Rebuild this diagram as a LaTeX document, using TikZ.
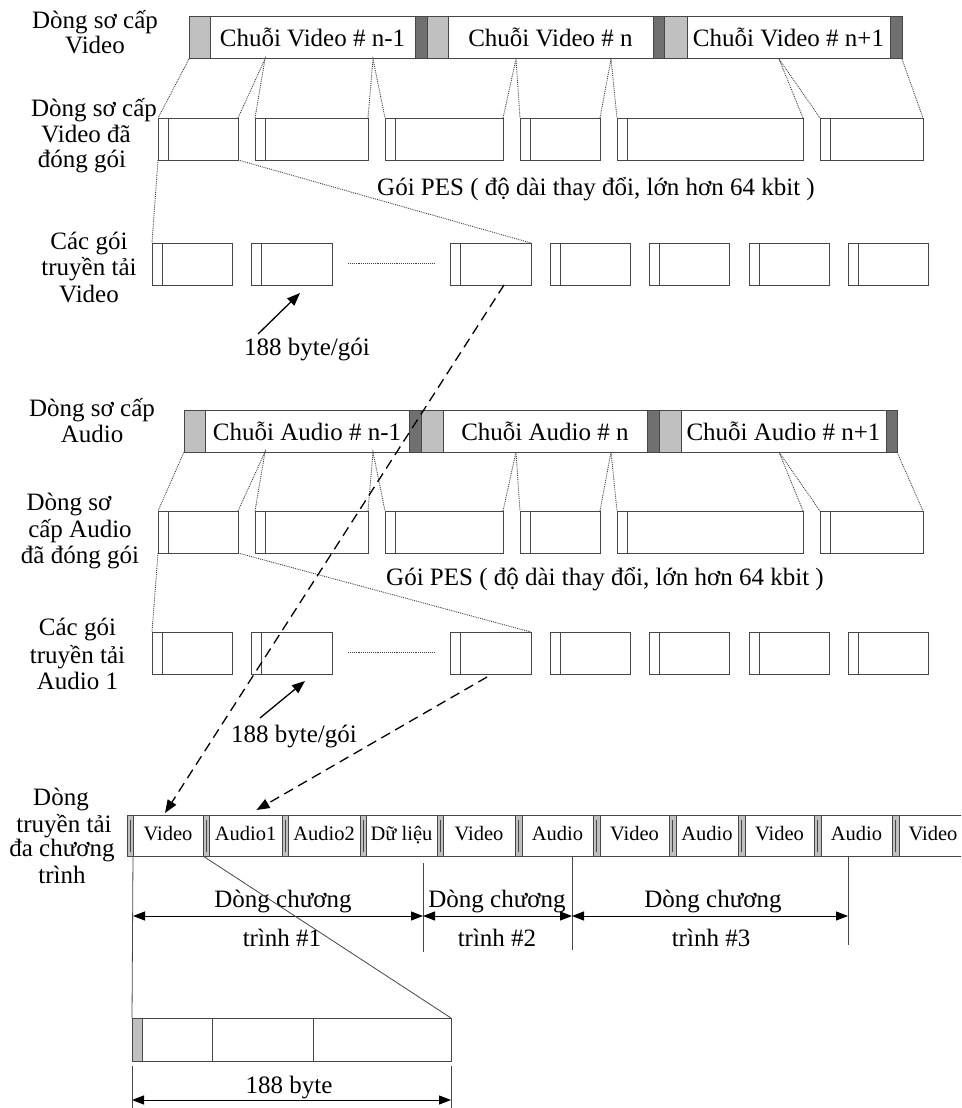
\documentclass[tikz,border=0pt]{standalone}
\usepackage{fontspec}
\setmainfont{Liberation Serif}
\usetikzlibrary{arrows.meta}
\definecolor{lgray}{RGB}{192,192,192}
\definecolor{dgray}{RGB}{112,112,112}
\definecolor{edge}{RGB}{70,70,70}
\newcommand\bx[7][box]{%
  \pgfmathsetmacro\bxw{#5-#3}\pgfmathsetmacro\bxh{#6-#4}%
  \node[#1,anchor=north west,minimum width=\bxw pt,minimum height=\bxh pt] (#2) at (#3,#4) {#7};}
\newcommand\pk[5]{\bx{#1}{#2}{#3}{#4}{#5}{}%
  \draw[inner] ([xshift=10.5pt]#1.north west) -- ([xshift=10.5pt]#1.south west);}
\newcommand\hd[3]{\bx[lg]{#1}{#2}{815}{#3}{856}{}%
  \draw[inner,line width=0.6pt] ([xshift=3pt,yshift=-5pt]#1.north west) -- ([xshift=3pt,yshift=4pt]#1.south west);}
\newcommand\lb[4]{\node[big,anchor=base] (#1) at (#2,#3) {#4};}
\begin{document}
\begin{tikzpicture}[x=1pt,y=-1pt,
  box/.style={draw=edge,line width=1pt,fill=white,inner sep=0pt,outer sep=0pt},
  lg/.style={box,fill=lgray},
  dg/.style={box,fill=dgray},
  big/.style={font=\fontsize{25}{26}\selectfont,inner sep=0pt},
  bartext/.style={box,font=\fontsize{25}{26}\selectfont,text height=18pt,text depth=0pt},
  smt/.style={box,font=\fontsize{20.5}{22}\selectfont,text height=14pt,text depth=4pt},
  inner/.style={draw=edge,line width=1pt},
  fan/.style={draw=black!75,line width=0.9pt,densely dotted},
  dashline/.style={line width=1.3pt,dash pattern=on 10pt off 6pt,-{Triangle[length=13pt,width=10pt]}},
  tipline/.style={line width=1.3pt,-{Triangle[length=13pt,width=10pt]}},
  dim/.style={line width=1pt,{Triangle[length=12pt,width=9pt]}-{Triangle[length=12pt,width=9pt]}},
  thinl/.style={draw=edge,line width=0.8pt}]
\useasboundingbox (0,0) rectangle (961,1108);
\clip (0,0) rectangle (961,1108);
% ---------------- Video elementary stream
\lb{l1a}{95}{29}{Dòng sơ cấp}
\lb{l1b}{95}{54}{Video}
\bx[lg]{vL1}{189}{17}{210}{59}{}
\bx[bartext]{vS1}{210}{17}{415}{59}{Chuỗi Video \# n-1}
\bx[dg]{vD1}{415}{17}{427}{59}{}
\bx[lg]{vL2}{427}{17}{448}{59}{}
\bx[bartext]{vS2}{448}{17}{653}{59}{Chuỗi Video \# n}
\bx[dg]{vD2}{653}{17}{664}{59}{}
\bx[lg]{vL3}{664}{17}{687}{59}{}
\bx[bartext]{vS3}{687}{17}{890}{59}{Chuỗi Video \# n+1}
\bx[dg]{vD3}{890}{17}{902}{59}{}
% PES video
\lb{l2a}{94}{116}{Dòng sơ cấp}
\lb{l2b}{86}{142}{Video đã}
\lb{l2c}{82}{167}{đóng gói}
\pk{vp1}{158}{118}{238}{160}
\pk{vp2}{255}{118}{368}{160}
\pk{vp3}{385}{118}{503}{160}
\pk{vp4}{520}{118}{600}{160}
\pk{vp5}{617}{118}{803}{160}
\pk{vp6}{820}{118}{923}{160}
\coordinate (vc1) at (265,59);
\coordinate (vc2) at (373,59);
\coordinate (vc3) at (516,59);
\coordinate (vc4) at (611,59);
\coordinate (vc5) at (779,59);
\draw[fan] (vL1.south west) -- (vp1.north west);
\draw[fan] (vp1.north east) -- (vc1) -- (vp2.north west);
\draw[fan] (vp2.north east) -- (vc2) -- (vp3.north west);
\draw[fan] (vp3.north east) -- (vc3) -- (vp4.north west);
\draw[fan] (vp4.north east) -- (vc4) -- (vp5.north west);
\draw[fan] (vp5.north east) -- (vc5) -- (vp6.north west);
\draw[fan] (vD3.south east) -- (vp6.north east);
\lb{vpes}{596}{195}{Gói PES ( độ dài thay đổi, lớn hơn 64 kbit )}
% TS video
\lb{l3a}{89}{249}{Các gói}
\lb{l3b}{89}{275}{truyền tải}
\lb{l3c}{89}{302}{Video}
\pk{vt1}{152}{243}{232}{285}
\pk{vt2}{251}{243}{332}{285}
\pk{vt3}{450}{243}{531}{285}
\pk{vt4}{550}{243}{630}{285}
\pk{vt5}{649}{243}{729}{285}
\pk{vt6}{749}{243}{829}{285}
\pk{vt7}{848}{243}{928}{285}
\draw[fan] (vp1.south west) -- (vt1.north west);
\draw[fan] (vp1.south east) -- (vt3.north east);
\draw[fan] ([xshift=16pt,yshift=1pt]vt2.east) -- ([xshift=-15pt,yshift=1pt]vt3.west);
\lb{vbt}{307}{355}{188 byte/gói}
\coordinate (va0) at (258,334);
\coordinate (va1) at (300,293);
\draw[tipline] (va0) -- (va1);
% ---------------- Audio elementary stream
\lb{l4a}{92}{416}{Dòng sơ cấp}
\lb{l4b}{92}{442}{Audio}
\bx[lg]{aL1}{184}{410}{205}{452}{}
\bx[bartext]{aS1}{205}{410}{409}{452}{Chuỗi Audio \# n-1}
\bx[dg]{aD1}{409}{410}{421}{452}{}
\bx[lg]{aL2}{421}{410}{443}{452}{}
\bx[bartext]{aS2}{443}{410}{647}{452}{Chuỗi Audio \# n}
\bx[dg]{aD2}{647}{410}{659}{452}{}
\bx[lg]{aL3}{659}{410}{681}{452}{}
\bx[bartext]{aS3}{681}{410}{886}{452}{Chuỗi Audio \# n+1}
\bx[dg]{aD3}{886}{410}{897}{452}{}
% PES audio
\lb{l5a}{69}{510}{Dòng sơ}
\lb{l5b}{80}{537}{cấp Audio}
\lb{l5c}{80}{563}{đã đóng gói}
\pk{ap1}{158}{511}{238}{553}
\pk{ap2}{255}{511}{368}{553}
\pk{ap3}{385}{511}{503}{553}
\pk{ap4}{520}{511}{600}{553}
\pk{ap5}{617}{511}{803}{553}
\pk{ap6}{820}{511}{923}{553}
\coordinate (ac1) at (265,452);
\coordinate (ac2) at (373,452);
\coordinate (ac3) at (516,452);
\coordinate (ac4) at (611,452);
\coordinate (ac5) at (779,452);
\draw[fan] (aL1.south west) -- (ap1.north west);
\draw[fan] (ap1.north east) -- (ac1) -- (ap2.north west);
\draw[fan] (ap2.north east) -- (ac2) -- (ap3.north west);
\draw[fan] (ap3.north east) -- (ac3) -- (ap4.north west);
\draw[fan] (ap4.north east) -- (ac4) -- (ap5.north west);
\draw[fan] (ap5.north east) -- (ac5) -- (ap6.north west);
\draw[fan] (aD3.south east) -- (ap6.north east);
\lb{apes}{605}{585}{Gói PES ( độ dài thay đổi, lớn hơn 64 kbit )}
% TS audio
\lb{l6a}{77.5}{635}{Các gói}
\lb{l6b}{77.5}{663}{truyền tải}
\lb{l6c}{77.5}{689}{Audio 1}
\pk{at1}{152}{632}{232}{674}
\pk{at2}{251}{632}{332}{674}
\pk{at3}{450}{632}{531}{674}
\pk{at4}{550}{632}{630}{674}
\pk{at5}{649}{632}{729}{674}
\pk{at6}{749}{632}{829}{674}
\pk{at7}{848}{632}{928}{674}
\draw[fan] (ap1.south west) -- (at1.north west);
\draw[fan] (ap1.south east) -- (at3.north east);
\draw[fan] ([xshift=16pt,yshift=1pt]at2.east) -- ([xshift=-15pt,yshift=1pt]at3.west);
\lb{abt}{294}{742}{188 byte/gói}
\coordinate (aa0) at (260,718);
\coordinate (aa1) at (305,681);
\draw[tipline] (aa0) -- (aa1);
% ---------------- Multiplex transport stream
\lb{l7a}{61}{805}{Dòng}
\lb{l7b}{64}{832}{truyền tải}
\lb{l7c}{62}{856}{đa chương}
\lb{l7d}{62}{883}{trình}
\hd{h1}{127}{133}\bx[smt]{m1}{133}{815}{203}{856}{Video}
\hd{h2}{203}{209}\bx[smt]{m2}{209}{815}{282}{856}{Audio1}
\hd{h3}{282}{288}\bx[smt]{m3}{288}{815}{360}{856}{Audio2}
\hd{h4}{360}{366}\bx[smt]{m4}{366}{815}{437}{856}{Dữ liệu}
\hd{h5}{437}{443}\bx[smt]{m5}{443}{815}{515}{856}{Video}
\hd{h6}{515}{522}\bx[smt]{m6}{522}{815}{593}{856}{Audio}
\hd{h7}{593}{600}\bx[smt]{m7}{600}{815}{669}{856}{Video}
\hd{h8}{669}{676}\bx[smt]{m8}{676}{815}{738}{856}{Audio}
\hd{h9}{738}{745}\bx[smt]{m9}{745}{815}{814}{856}{Video}
\hd{h10}{814}{821}\bx[smt]{m10}{821}{815}{892}{856}{Audio}
\hd{h11}{892}{899}\bx[smt]{m11}{899}{815}{967}{856}{Video}
% dashed connectors
\draw[dashline] ([xshift=-27pt]vt3.south east) -- ([xshift=-3pt,yshift=2pt]m1.north);
\draw[dashline] ([xshift=37pt,yshift=-3pt]at3.south west) -- ([xshift=11pt,yshift=5pt]m2.north);
% program streams
\coordinate (t1a) at (423,863); \coordinate (t1b) at (423,952);
\coordinate (t2a) at (572,856); \coordinate (t2b) at (572,950);
\coordinate (t3a) at (848,856); \coordinate (t3b) at (848,945);
\draw[thinl] (t1a) -- (t1b);
\draw[thinl] (t2a) -- (t2b);
\draw[thinl] (t3a) -- (t3b);
\coordinate (k0) at (133,916); \coordinate (k1) at (423,916);
\coordinate (k2) at (572,916); \coordinate (k3) at (848,916);
\draw[dim] (k0) -- (k1);
\draw[dim] (k1) -- (k2);
\draw[dim] (k2) -- (k3);
\lb{p1a}{283}{907}{Dòng chương}
\lb{p1b}{282}{946}{trình \#1}
\lb{p2a}{497}{907}{Dòng chương}
\lb{p2b}{497}{946}{trình \#2}
\lb{p3a}{713}{907}{Dòng chương}
\lb{p3b}{711}{946}{trình \#3}
% detail packet
\bx[lg]{b0}{132}{1018}{142}{1061}{}
\bx{b1}{142}{1018}{212}{1061}{}
\bx{b2}{212}{1018}{313}{1061}{}
\bx{b3}{313}{1018}{451}{1061}{}
\draw[thinl] (m1.south west) -- (b0.north west);
\draw[thinl] (m1.south east) -- (b3.north east);
\coordinate (e0a) at (132,1066); \coordinate (e0b) at (132,1108);
\coordinate (e1a) at (451,1066); \coordinate (e1b) at (451,1108);
\draw[thinl] (e0a) -- (e0b);
\draw[thinl] (e1a) -- (e1b);
\coordinate (f0) at (132,1100); \coordinate (f1) at (451,1100);
\draw[dim] (f0) -- (f1);
\lb{byt}{289}{1093}{188 byte}
\end{tikzpicture}
\end{document}
